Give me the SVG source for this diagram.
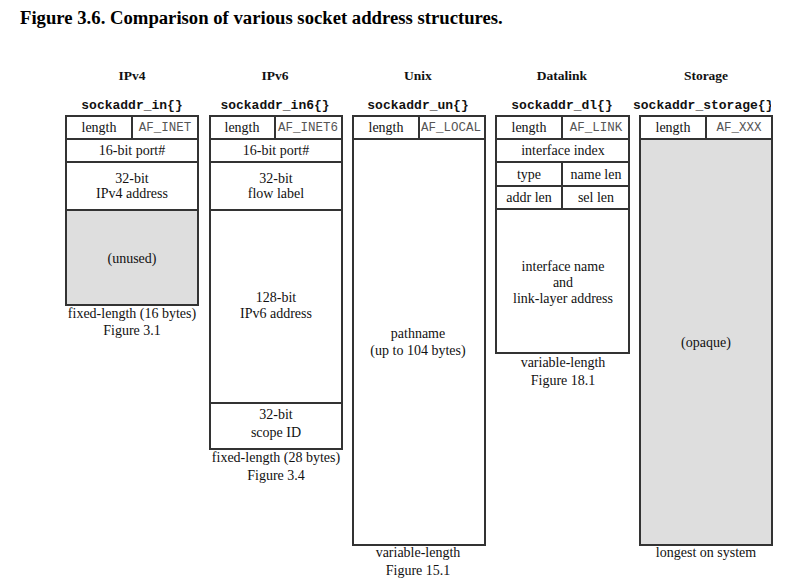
<svg xmlns="http://www.w3.org/2000/svg" width="794" height="588" viewBox="0 0 794 588">
<style>
.ttl{font-family:"Liberation Serif",serif;font-weight:bold;font-size:18.7px;fill:#000}
.hd{font-family:"Liberation Serif",serif;font-weight:bold;font-size:13.5px;fill:#111;text-anchor:middle}
.st{font-family:"Liberation Mono",monospace;font-weight:bold;font-size:13px;fill:#111;text-anchor:middle}
.t{font-family:"Liberation Serif",serif;font-size:14px;fill:#111;text-anchor:middle}
.m{font-family:"Liberation Mono",monospace;font-size:12.5px;fill:#555;text-anchor:middle}
.box{fill:#fff;stroke:#333;stroke-width:2}
.gray{fill:#dedede;stroke:none}
.ln{stroke:#333;stroke-width:2;fill:none}
</style>
<defs>
<clipPath id="clipR"><rect x="0" y="0" width="771" height="588"/></clipPath>
<clipPath id="clipUnix"><rect x="420" y="118" width="64" height="20"/></clipPath>
</defs>
<rect width="794" height="588" fill="#fff"/>
<text class="ttl" x="20" y="24">Figure 3.6. Comparison of various socket address structures.</text>

<g id="ipv4">
<text class="hd" x="132" y="80">IPv4</text>
<text class="st" x="132" y="109">sockaddr_in{}</text>
<rect class="box" x="66" y="116" width="132" height="189"/>
<rect class="gray" x="67" y="211" width="130" height="93"/>
<line class="ln" x1="66" y1="139" x2="198" y2="139"/>
<line class="ln" x1="66" y1="162" x2="198" y2="162"/>
<line class="ln" x1="66" y1="210" x2="198" y2="210"/>
<line class="ln" x1="132" y1="116" x2="132" y2="139"/>
<text class="t" x="99" y="132">length</text>
<text class="m" x="165" y="131">AF_INET</text>
<text class="t" x="132" y="155">16-bit port#</text>
<text class="t" x="132" y="183">32-bit</text>
<text class="t" x="132" y="198">IPv4 address</text>
<text class="t" x="132" y="263">(unused)</text>
<text class="t" x="132" y="318">fixed-length (16 bytes)</text>
<text class="t" x="132" y="335">Figure 3.1</text>
</g>

<g id="ipv6">
<text class="hd" x="275" y="80">IPv6</text>
<text class="st" x="275" y="109">sockaddr_in6{}</text>
<rect class="box" x="210" y="116" width="132" height="333"/>
<line class="ln" x1="210" y1="139" x2="342" y2="139"/>
<line class="ln" x1="210" y1="162" x2="342" y2="162"/>
<line class="ln" x1="210" y1="210" x2="342" y2="210"/>
<line class="ln" x1="210" y1="403" x2="342" y2="403"/>
<line class="ln" x1="275" y1="116" x2="275" y2="139"/>
<text class="t" x="242" y="132">length</text>
<text class="m" x="308" y="131">AF_INET6</text>
<text class="t" x="276" y="155">16-bit port#</text>
<text class="t" x="276" y="183">32-bit</text>
<text class="t" x="276" y="198">flow label</text>
<text class="t" x="276" y="302">128-bit</text>
<text class="t" x="276" y="318">IPv6 address</text>
<text class="t" x="276" y="419">32-bit</text>
<text class="t" x="276" y="437">scope ID</text>
<text class="t" x="276" y="462">fixed-length (28 bytes)</text>
<text class="t" x="276" y="480">Figure 3.4</text>
</g>

<g id="unix">
<text class="hd" x="418" y="80">Unix</text>
<text class="st" x="418" y="109">sockaddr_un{}</text>
<rect class="box" x="353" y="116" width="132" height="429"/>
<line class="ln" x1="353" y1="139" x2="485" y2="139"/>
<line class="ln" x1="419" y1="116" x2="419" y2="139"/>
<text class="t" x="386" y="132">length</text>
<text class="m" x="421" y="131" style="text-anchor:start" clip-path="url(#clipUnix)">AF_LOCAL</text>
<text class="t" x="418" y="338">pathname</text>
<text class="t" x="418" y="355">(up to 104 bytes)</text>
<text class="t" x="418" y="557">variable-length</text>
<text class="t" x="418" y="575">Figure 15.1</text>
</g>

<g id="datalink">
<text class="hd" x="562" y="80">Datalink</text>
<text class="st" x="562" y="109">sockaddr_dl{}</text>
<rect class="box" x="496" y="116" width="133" height="237"/>
<line class="ln" x1="496" y1="139" x2="629" y2="139"/>
<line class="ln" x1="496" y1="162" x2="629" y2="162"/>
<line class="ln" x1="496" y1="186" x2="629" y2="186"/>
<line class="ln" x1="496" y1="209" x2="629" y2="209"/>
<line class="ln" x1="562" y1="116" x2="562" y2="139"/>
<line class="ln" x1="562" y1="162" x2="562" y2="209"/>
<text class="t" x="529" y="132">length</text>
<text class="m" x="596" y="131">AF_LINK</text>
<text class="t" x="563" y="155">interface index</text>
<text class="t" x="529" y="179">type</text>
<text class="t" x="596" y="179">name len</text>
<text class="t" x="529" y="202">addr len</text>
<text class="t" x="596" y="202">sel len</text>
<text class="t" x="563" y="271">interface name</text>
<text class="t" x="563" y="287">and</text>
<text class="t" x="563" y="303">link-layer address</text>
<text class="t" x="563" y="367">variable-length</text>
<text class="t" x="563" y="385">Figure 18.1</text>
</g>

<g id="storage">
<text class="hd" x="706" y="80">Storage</text>
<text class="st" x="633" y="109" style="text-anchor:start" clip-path="url(#clipR)">sockaddr_storage{}</text>
<rect class="box" x="640" y="116" width="132" height="429"/>
<rect class="gray" x="641" y="140" width="130" height="404"/>
<line class="ln" x1="640" y1="139" x2="772" y2="139"/>
<line class="ln" x1="706" y1="116" x2="706" y2="139"/>
<text class="t" x="673" y="132">length</text>
<text class="m" x="739" y="131">AF_XXX</text>
<text class="t" x="706" y="347">(opaque)</text>
<text class="t" x="706" y="557">longest on system</text>
</g>
</svg>
